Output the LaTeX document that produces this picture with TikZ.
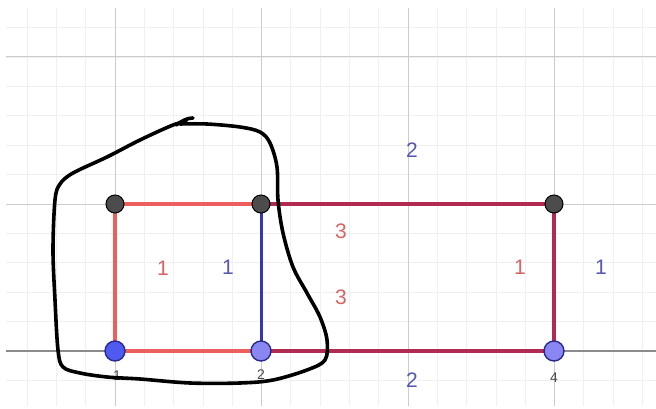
\documentclass[tikz,border=0pt]{standalone}
\usepackage{fontspec}
\setmainfont{Liberation Sans}
\definecolor{salmonred}{HTML}{EC5F5C}
\definecolor{crimsonred}{HTML}{B02A52}
\definecolor{segblu}{HTML}{3535B8}
\definecolor{ptfillA}{HTML}{4F5BF0}
\definecolor{ptfillB}{HTML}{8A86F2}
\definecolor{ptedge}{HTML}{2A2A90}
\definecolor{lblr}{HTML}{D86464}
\definecolor{lblb}{HTML}{5858B0}
\begin{document}
\begin{tikzpicture}[x=1pt,y=-1pt,
  minorgrid/.style={draw=black!6,line width=0.8pt},
  majorgrid/.style={draw=black!20,line width=1pt},
  axisline/.style={draw=black!45,line width=2.8pt},
  segred/.style={draw=salmonred,line width=3.8pt},
  segcrim/.style={draw=crimsonred,line width=3.8pt},
  segblue/.style={draw=segblu,line width=3pt},
  ptdark/.style={circle,fill=black!70,draw=black,line width=1pt,minimum size=18pt,inner sep=0pt},
  ptblue/.style={circle,fill=ptfillA,draw=ptedge,line width=1.4pt,minimum size=20pt,inner sep=0pt},
  ptlight/.style={circle,fill=ptfillB,draw=ptedge,line width=1.4pt,minimum size=20pt,inner sep=0pt},
  lblred/.style={text=lblr,font=\fontsize{21}{23}\selectfont},
  lblblue/.style={text=lblb,font=\fontsize{21}{23}\selectfont},
  axlbl/.style={text=black!70,font=\fontsize{14}{16}\selectfont}
]
\useasboundingbox (0,0) rectangle (656,409);
\fill[white] (0,0) rectangle (656,409);
% minor grid
\foreach \i in {-3,...,18} {
  \pgfmathsetmacro{\xx}{115+\i*29.3}
  \ifdim \xx pt>6pt \ifdim \xx pt<654pt
    \draw[minorgrid] (\xx,8) -- (\xx,406);
  \fi\fi
}
\foreach \j in {-1,...,13} {
  \pgfmathsetmacro{\yy}{57+\j*29.4}
  \ifdim \yy pt>8pt \ifdim \yy pt<406pt
    \draw[minorgrid] (6,\yy) -- (656,\yy);
  \fi\fi
}
% major grid
\foreach \xx in {115,261,408,554} \draw[majorgrid] (\xx,8) -- (\xx,406);
\foreach \yy in {57,204} \draw[majorgrid] (6,\yy) -- (656,\yy);
\draw[axisline] (6,351) -- (656,351);
% axis labels
\node[axlbl] at (117,376) {1};
\node[axlbl] at (261,375) {2};
\node[axlbl] at (554,378) {4};
% points
\coordinate (A) at (115,351);
\coordinate (B) at (261,351);
\coordinate (C) at (554,351);
\coordinate (D) at (115,204);
\coordinate (E) at (261,204);
\coordinate (F) at (554,204);
% segments
\draw[segcrim] (E) -- (F);
\draw[segcrim] (F) -- (C);
\draw[segcrim] (B) -- (C);
\draw[segred] (A) -- (D);
\draw[segred] (D) -- (E);
\draw[segred] (A) -- (B);
\draw[segblue] (B) -- (E);
\node[ptblue] (pA) at (A) {};
\node[ptlight] (pB) at (B) {};
\node[ptlight] (pC) at (C) {};
\node[ptdark] (pD) at (D) {};
\node[ptdark] (pE) at (E) {};
\node[ptdark] (pF) at (F) {};
% labels
\node[lblred] (l1) at (163,268) {1};
\node[lblblue] (l2) at (228,267) {1};
\node[lblred] (l3) at (341,231) {3};
\node[lblred] (l4) at (341,297) {3};
\node[lblblue] (l5) at (412,150) {2};
\node[lblblue] (l6) at (412,380) {2};
\node[lblred] (l7) at (520,267) {1};
\node[lblblue] (l8) at (601,267) {1};
% freehand loop
\draw[black,line width=3.6pt,line cap=round,line join=round] plot[smooth,tension=0.55] coordinates {
 (186,122) (173,125) (140,140) (107,157) (73,173) (60,184) (55,200) (53,250) (55,300) (58,350) (63,367) (80,373) (107,377) (140,379) (190,383) (240,383) (273,380) (307,370) (325,360) (327,340) (320,317) (307,293) (293,267) (283,233) (278,200) (277,167) (270,143) (260,132) (240,127) (207,124) (180,124)};
\draw[black,line width=3.6pt,line cap=round] (176,125) .. controls (182,121) and (187,118) .. (193,118);
\end{tikzpicture}
\end{document}
